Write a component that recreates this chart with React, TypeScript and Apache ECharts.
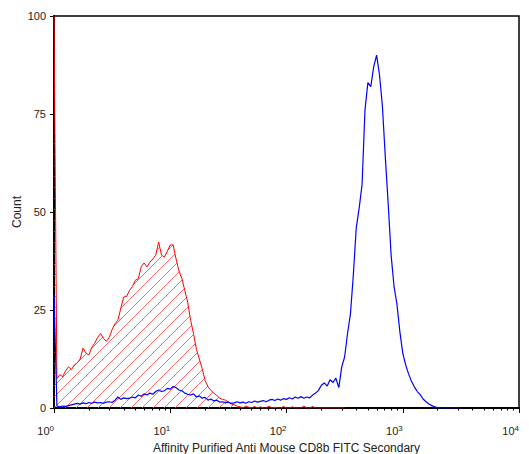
import React, { useEffect, useRef } from "react";
import * as echarts from "echarts";

// Channel resolution: 40 channels per decade, 4 decades (10^0 .. 10^4)
const CHANNELS_PER_DECADE = 40;
const DECADE_EXPONENTS = [0, 1, 2, 3, 4];
const Y_TICKS = [0, 25, 50, 75, 100];

const X_TITLE = "Affinity Purified Anti Mouse CD8b FITC Secondary";
const Y_TITLE = "Count";

// Isotype / control histogram (red, hatched)
const redCounts = [
  100, 7.5, 8.5, 8, 9.5, 10.5, 9.8, 11, 11.5, 12.5,
  15.3, 14, 13.5, 15.5, 16.5, 18, 19, 17.8, 17, 18,
  20, 21.5, 22.4, 25.5, 28.3, 28.5, 30, 31, 32.6, 33,
  36, 37, 36, 37.2, 38, 39, 42.3, 39, 38.5, 40,
  41.6, 41.6, 38, 35, 33, 30, 27, 22.4, 19, 15,
  12.5, 10, 7, 5.4, 4.5, 3.8, 3.2, 2.5, 2.2, 2,
  1.5, 1, 0.8, 0.5, 0.3, 0, 0.5, 0.2, 0, 0.4,
  0, 0.3, 0, 0, 0.5, 0, 0.2, 0, 0, 0.4,
  0, 0, 0.3, 0, 0, 0, 0.5, 0, 0, 0.4,
  0, 0, 0, 0, 0, 0, 0, 0, 0, 0, 0,
];

// Stained sample histogram (blue)
const blueCounts = [
  29, 0.5, 0.3, 0.5, 0.4, 0.6, 0.8, 1, 1.2, 1,
  1.3, 1.1, 1.4, 1.2, 1.5, 1.3, 1.4, 1.2, 1.5, 1.6,
  1.4, 2, 2.8, 2.2, 2.6, 2.4, 2.5, 2.8, 2.6, 3.3,
  3, 3.6, 3.3, 3.8, 3.5, 4.2, 4.6, 4.2, 4.4, 5,
  4.8, 5.5, 5.2, 4.6, 4.4, 3.8, 3.5, 3.3, 3.6, 2.8,
  3.1, 2.5, 2.7, 2, 2.3, 1.8, 2, 1.5, 1.6, 1.3,
  1.5, 1.2, 1.3, 1.6, 1.3, 1.5, 1.2, 1.6, 1.4, 1.8,
  1.5, 1.7, 1.9, 1.6, 2, 2.2, 1.9, 2.3, 2, 2.4,
  2.2, 2.6, 2.3, 2.8, 2.5, 2.9, 2.5, 2.8, 2.6, 3.3,
  3.8, 4.5, 5.8, 6.4, 5.6, 7.2, 6.5, 7.6, 5.2, 10.5,
  13, 19, 24, 34, 46, 51, 57, 76, 83, 82,
  87, 90, 85, 77, 64, 52, 39, 31, 26.5, 19.5,
  14, 11, 8.7, 6.8, 5.4, 4.2, 3.4, 2.3, 1.6, 1,
  0.6, 0.3, 0.1, 0, 0, 0, 0, 0, 0, 0, 0,
];

const FONT = "'Liberation Sans', Arial, sans-serif";

function makeHatch() {
  const size = 11;
  const svg =
    "<svg xmlns='http://www.w3.org/2000/svg' width='" + size + "' height='" + size + "'>" +
    "<path d='M-1 " + (size + 1) + " L" + (size + 1) + " -1 M-2 1 L1 -2 M" + (size - 1) + " " + (size + 2) + " L" + (size + 2) + " " + (size - 1) + "' " +
    "stroke='#ff4040' stroke-width='0.8' fill='none'/></svg>";
  const url = "data:image/svg+xml;charset=utf-8," + encodeURIComponent(svg);
  return { image: url, repeat: "repeat", imageWidth: size, imageHeight: size };
}

export default function App() {
  const ref = useRef<HTMLDivElement>(null);

  useEffect(() => {
    if (!ref.current) return;
    const chart = echarts.init(ref.current, null, { renderer: "svg" });
    const maxCh = CHANNELS_PER_DECADE * (DECADE_EXPONENTS.length - 1);
    const majorTicks = DECADE_EXPONENTS.map((d) => d * CHANNELS_PER_DECADE);
    const minorTicks: number[] = [];
    for (let d = 0; d < DECADE_EXPONENTS.length - 1; d++) {
      for (let k = 2; k <= 9; k++) {
        minorTicks.push(CHANNELS_PER_DECADE * (d + Math.log10(k)));
      }
    }

    chart.setOption({
      animation: false,
      grid: {
        left: 54,
        right: 10,
        top: 16,
        bottom: 46,
        outerBoundsMode: "none",
        containLabel: false,
        show: true,
        borderColor: "#000",
        borderWidth: 1.5,
        backgroundColor: "#fff",
      },
      xAxis: [
        {
          type: "value",
          min: 0,
          max: maxCh,
          interval: CHANNELS_PER_DECADE,
          position: "bottom",
          name: X_TITLE,
          nameLocation: "middle",
          nameGap: 34,
          nameMoveOverlap: false,
          nameTextStyle: { fontFamily: FONT, fontSize: 12, color: "#222" },
          axisLine: { show: true, onZero: false, lineStyle: { color: "#000", width: 2 } },
          axisTick: {
            show: true,
            length: 5,
            customValues: majorTicks,
            lineStyle: { color: "#000", width: 1 },
          },
          splitLine: { show: false },
          axisLabel: {
            margin: 16,
            align: "right",
            customValues: majorTicks,
            formatter: (v: number) =>
              "{b|10}{s|" + Math.round(v / CHANNELS_PER_DECADE) + "}",
            rich: {
              b: { fontFamily: FONT, fontSize: 11, color: "#222", lineHeight: 14 },
              s: {
                fontFamily: FONT,
                fontSize: 8,
                color: "#222",
                verticalAlign: "top",
                lineHeight: 8,
              },
            },
          },
        },
        {
          type: "value",
          min: 0,
          max: maxCh,
          position: "bottom",
          axisLine: { show: false, onZero: false },
          axisTick: {
            show: true,
            length: 2.5,
            customValues: minorTicks,
            lineStyle: { color: "#000", width: 1 },
          },
          axisLabel: { show: false },
          splitLine: { show: false },
        },
      ],
      yAxis: {
        type: "value",
        min: 0,
        max: 100,
        interval: 25,
        name: Y_TITLE,
        nameLocation: "middle",
        nameGap: 31,
        nameMoveOverlap: false,
        nameTextStyle: { fontFamily: FONT, fontSize: 12, color: "#222" },
        axisLine: { show: true, onZero: false, lineStyle: { color: "#000", width: 2 } },
        axisTick: { show: true, length: 4, lineStyle: { color: "#000" } },
        splitLine: { show: false },
        axisLabel: {
          margin: 8,
          fontFamily: FONT,
          fontSize: 11,
          color: "#222",
          customValues: Y_TICKS,
        },
      },
      series: [
        {
          type: "line",
          name: "control",
          xAxisIndex: 0,
          data: redCounts.map((c, i) => [i, c]),
          symbol: "none",
          clip: true,
          lineStyle: { color: "#ff0000", width: 1 },
          areaStyle: { color: makeHatch(), opacity: 1 },
          z: 2,
        },
        {
          type: "line",
          name: "sample",
          xAxisIndex: 0,
          data: blueCounts.map((c, i) => [i, c]),
          symbol: "none",
          clip: true,
          lineStyle: { color: "#0000ff", width: 1.2 },
          z: 3,
        },
      ],
    });
    return () => chart.dispose();
  }, []);

  return (
    <div
      ref={ref}
      style={{ position: "fixed", left: 0, top: 0, width: 529, height: 454, background: "#fff" }}
    />
  );
}
